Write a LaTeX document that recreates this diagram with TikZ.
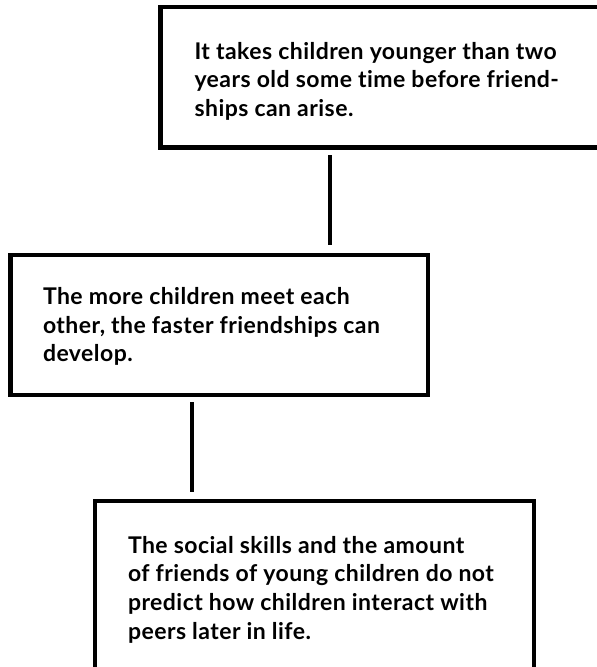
\documentclass[tikz,border=0pt]{standalone}
\usepackage{fontspec}
\setmainfont{Lato}[LetterSpace=2.0, RawFeature={-liga}]
\begin{document}
\begin{tikzpicture}[x=1pt,y=-1pt,
  box/.style={draw=black, line width=4.5pt, rectangle, inner sep=0pt, outer sep=0pt},
  txt/.style={anchor=base west, inner sep=0pt, outer sep=0pt, text=black},
  conn/.style={draw=black, line width=4pt, line cap=butt}]
\useasboundingbox (0,0) rectangle (597,667);
\clip (0,0) rectangle (597,667);
\fill[white] (0,0) rectangle (597,667);

\newcommand{\boxtext}[1]{\parbox[t]{480pt}{\fontsize{23}{28.6}\selectfont\bfseries #1}}

% statement boxes
\node[box, minimum width=479.5pt, minimum height=140.5pt] (b1) at (400.25,77.25) {};
\node[box, minimum width=417.5pt, minimum height=140pt]   (b2) at (219.25,325) {};
\node[box, minimum width=439pt,   minimum height=219pt]   (b3) at (314.5,610.5) {};

% statement texts
\node[txt] (t1) at (194.5,59.3) {\boxtext{It takes children younger than two\\years old some time before friend-\\ships can arise.}};
\node[txt] (t2) at (43,304.5) {\boxtext{The more children meet each\\other, the faster friendships can\\develop.}};
\node[txt] (t3) at (128,553.3) {\boxtext{The social skills and the amount\\of friends of young children do not\\predict how children interact with\\peers later in life.}};

% connector columns
\coordinate (c1) at (330,0);
\coordinate (c2) at (191.5,0);
\draw[conn, shorten <=7.5pt, shorten >=10pt] (b1.south -| c1) -- (b2.north -| c1);
\draw[conn, shorten <=7pt, shorten >=9pt] (b2.south -| c2) -- (b3.north -| c2);
\end{tikzpicture}
\end{document}
